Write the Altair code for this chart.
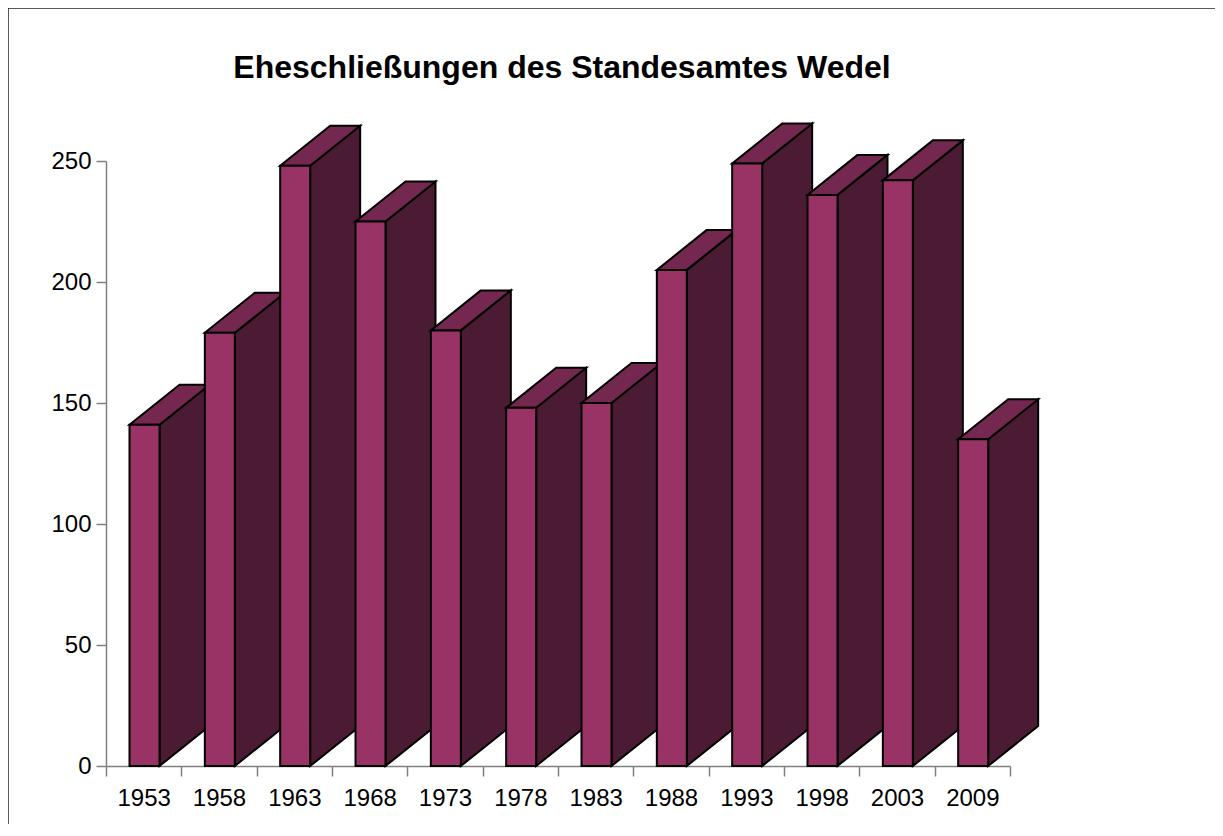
import altair as alt
import pandas as pd

# ---- data ----
years = ["1953", "1958", "1963", "1968", "1973", "1978",
         "1983", "1988", "1993", "1998", "2003", "2009"]
values = [141, 179, 248, 225, 180, 148, 150, 205, 249, 236, 242, 135]
y_ticks = [0, 50, 100, 150, 200, 250]
title_text = "Eheschließungen des Standesamtes Wedel"

# ---- geometry (style) ----
W, H = 904, 605
Y_MAX = 250
BAND = W / len(years)          # px per category
PX_PER_UNIT = H / Y_MAX
FRONT_OFF = 23.5 / BAND        # front face offset within band (in band units)
FRONT_W = 30 / BAND            # front face width
DX = 50 / BAND                 # 3D depth, horizontal
DY = 40 / PX_PER_UNIT          # 3D depth, vertical (data units)

FRONT_COL = "#993366"
SIDE_COL = "#4B1A33"
TOP_COL = "#74284F"
AXIS_COL = "#808080"
SW = 2

front_rows, side_rows, top_rows = [], [], []
for i, (yr, v) in enumerate(zip(years, values)):
    xl = i + FRONT_OFF
    xr = xl + FRONT_W
    front_rows.append({"year": yr, "x": xl, "x2": xr, "y": 0, "y2": v})
    side_rows.append({"year": yr, "x": xr, "y": v, "y2": 0})
    side_rows.append({"year": yr, "x": xr + DX, "y": v + DY, "y2": DY})
    top_rows.append({"year": yr, "y": v, "x": xl, "x2": xr})
    top_rows.append({"year": yr, "y": v + DY, "x": xl + DX, "x2": xr + DX})

front_df = pd.DataFrame(front_rows)
side_df = pd.DataFrame(side_rows)
top_df = pd.DataFrame(top_rows)
cat_df = pd.DataFrame({"year": years})

xq_scale = alt.Scale(domain=[0, len(years)], nice=False, zero=False)
y_scale = alt.Scale(domain=[0, Y_MAX], nice=False, zero=True)
y_axis = alt.Axis(values=y_ticks, title=None, grid=False,
                  domainColor=AXIS_COL, domainWidth=1.5,
                  tickColor=AXIS_COL, tickWidth=1.5, tickSize=10,
                  labelFontSize=24, labelColor="black", labelPadding=5,
                  labelFont="Liberation Sans")

# category axis (band scale, ticks at band edges)
cat_layer = alt.Chart(cat_df).mark_point(opacity=0, size=1).encode(
    x=alt.X("year:N", sort=years,
            scale=alt.Scale(paddingInner=0, paddingOuter=0),
            axis=alt.Axis(title=None, tickBand="extent", labelAngle=0,
                          domainColor=AXIS_COL, domainWidth=1.5,
                          tickColor=AXIS_COL, tickWidth=1.5, tickSize=10,
                          labelFontSize=24, labelColor="black",
                          labelPadding=10, labelFont="Liberation Sans"))
)

side_layer = alt.Chart(side_df).mark_area(
    fill=SIDE_COL, stroke="black", strokeWidth=SW, strokeJoin="miter"
).encode(
    x=alt.X("x:Q", scale=xq_scale, axis=None),
    y=alt.Y("y:Q", scale=y_scale, axis=y_axis, stack=None),
    y2="y2:Q",
    detail="year:N",
)

top_layer = alt.Chart(top_df).mark_area(
    orient="horizontal", fill=TOP_COL, stroke="black", strokeWidth=SW,
    strokeJoin="miter"
).encode(
    y=alt.Y("y:Q", scale=y_scale, axis=y_axis),
    x=alt.X("x:Q", scale=xq_scale, axis=None, stack=None),
    x2="x2:Q",
    detail="year:N",
)

front_layer = alt.Chart(front_df).mark_rect(
    fill=FRONT_COL, stroke="black", strokeWidth=SW
).encode(
    x=alt.X("x:Q", scale=xq_scale, axis=None),
    x2="x2:Q",
    y=alt.Y("y:Q", scale=y_scale, axis=y_axis),
    y2="y2:Q",
)

frame_df = pd.DataFrame({"a": [0]})
border_top = alt.Chart(frame_df).mark_rule(color="#222222", strokeWidth=1.5).encode(
    x=alt.value(-98), x2=alt.value(W + 400), y=alt.value(-153)
)
border_left = alt.Chart(frame_df).mark_rule(color="#222222", strokeWidth=1.5).encode(
    x=alt.value(-98), y=alt.value(-153), y2=alt.value(H + 200)
)

chart = alt.layer(
    border_top, border_left, cat_layer, side_layer, top_layer, front_layer
).resolve_scale(x="independent").properties(
    width=W, height=H,
    padding={"left": 98, "top": 153, "right": 205, "bottom": 58},
    autosize=alt.AutoSizeParams(type="none"),
    title=alt.TitleParams(title_text, fontSize=32, fontWeight="bold",
                          font="Liberation Sans", color="black",
                          anchor="middle", baseline="alphabetic",
                          offset=-103, dx=4),
).configure(font="Liberation Sans").configure_view(strokeWidth=0, stroke="transparent")

chart.save("out.html", embed_options={"renderer": "svg", "actions": False})
